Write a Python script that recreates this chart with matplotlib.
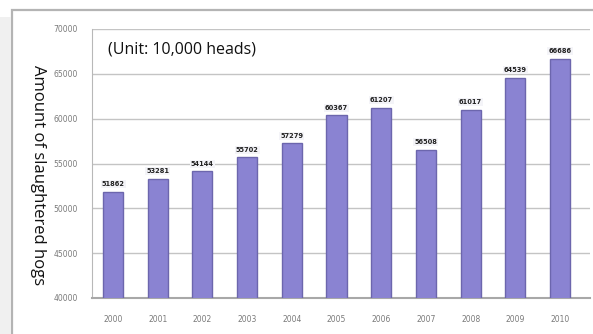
import matplotlib.pyplot as plt
from matplotlib.patches import Rectangle

# Abate de suinos (10.000 cabecas), 2000-2010
anos = ["2000", "2001", "2002", "2003", "2004", "2005",
        "2006", "2007", "2008", "2009", "2010"]
abate = [51862, 53281, 54144, 55702, 57279, 60367,
         61207, 56508, 61017, 64539, 66686]
y_ticks = [40000, 45000, 50000, 55000, 60000, 65000, 70000]

COR_BARRA = "#8a83d2"
COR_BORDA = "#6c66ad"

fig = plt.figure(figsize=(5.93, 3.34), dpi=100)
fig.patch.set_facecolor("white")

# moldura externa (estilo captura de tela)
fig.patches.append(Rectangle((12 / 593, -0.05), 1.0, (334 - 10) / 334 + 0.05,
                             transform=fig.transFigure, fill=False,
                             edgecolor="#b4b4b4", linewidth=1.6))
fig.patches.append(Rectangle((0, -0.05), 11 / 593, 1.0,
                             transform=fig.transFigure, facecolor="#f0f0f0",
                             edgecolor="none"))

ax = fig.add_axes([92 / 593, 36 / 334, 498 / 593, 269 / 334])
ax.set_facecolor("white")

x = list(range(len(anos)))
ax.bar(x, abate, width=0.45, color=COR_BARRA, edgecolor=COR_BORDA,
       linewidth=1.0, zorder=3)

for xi, v in zip(x, abate):
    ax.text(xi, v + 500, f"{v}", ha="center", va="bottom", fontsize=4.8,
            color="#222222", fontweight="bold", zorder=4,
            bbox=dict(boxstyle="square,pad=0.15", facecolor="#f4f4f8",
                      edgecolor="none"))

ax.set_xlim(-0.47, 10.67)
ax.set_ylim(40000, 70000)
ax.set_yticks(y_ticks)
ax.set_yticklabels([str(t) for t in y_ticks])
ax.set_xticks(x)
ax.set_xticklabels(anos)
ax.tick_params(axis="both", labelsize=5.5, labelcolor="#7a7a7a",
               length=0)
ax.tick_params(axis="y", pad=10)
ax.tick_params(axis="x", pad=12)

ax.yaxis.grid(True, color="#c4c4c4", linewidth=1.0, zorder=0)
for lado in ["top", "right"]:
    ax.spines[lado].set_visible(False)
ax.spines["left"].set_color("#b8b8b8")
ax.spines["bottom"].set_color("#a8a8a8")
ax.spines["bottom"].set_linewidth(1.5)

ax.text(0.032, 0.925, "(Unit: 10,000 heads)", transform=ax.transAxes,
        fontsize=11.5, family="Open Sans", color="#111111", va="center")

fig.text(38 / 593, 0.475, "Amount of slaughtered hogs", rotation=270,
         ha="center", va="center", fontsize=12, family="Open Sans",
         color="#111111")

plt.savefig("out.png", dpi=100)
plt.close()
